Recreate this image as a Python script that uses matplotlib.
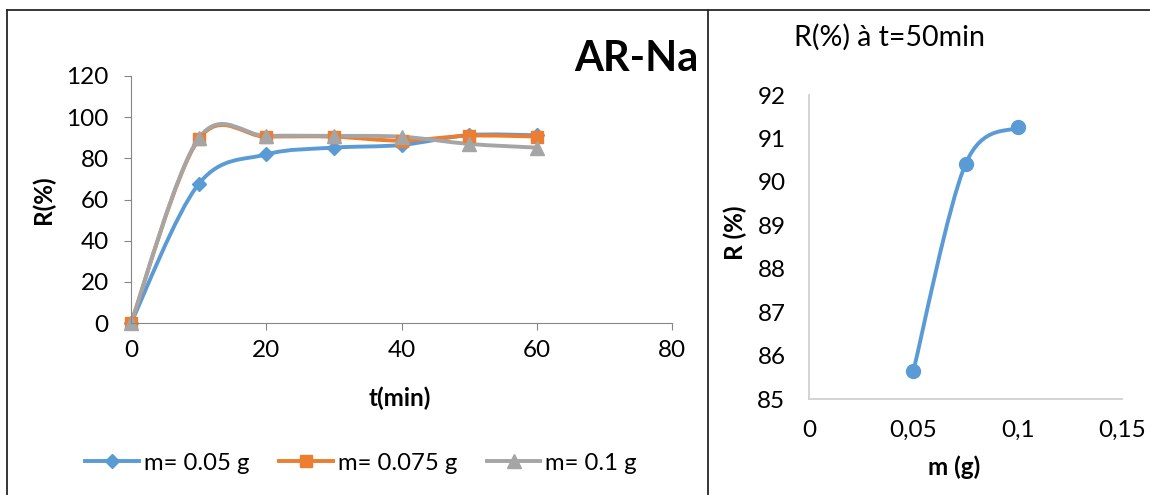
import matplotlib
matplotlib.use('Agg')
import matplotlib.pyplot as plt
from matplotlib.path import Path
from matplotlib.patches import PathPatch
from matplotlib.lines import Line2D

plt.rcParams['font.family'] = ['Lato', 'DejaVu Sans']

# Cinétique : rendement en fonction du temps pour trois masses
t_min = [0, 10, 20, 30, 40, 50, 60]
r_005 = [0, 67.5, 81.9, 85.2, 86.5, 91.3, 91.2]
r_0075 = [0, 89.2, 90.5, 90.5, 88.6, 91.0, 90.6]
r_01 = [0, 89.7, 90.9, 90.9, 90.5, 87.0, 85.2]
labels = ['m= 0.05 g', 'm= 0.075 g', 'm= 0.1 g']

# Rendement à t=50min selon la masse
masse_g = [0.05, 0.075, 0.1]
r_50min = [85.65, 90.41, 91.26]

bleu = '#5B9BD5'
orange = '#ED7D31'
gris = '#A5A5A5'

W, H = 1150, 495


def courbe_lissee(x, y):
    # lissage type Excel (Bezier de Catmull-Rom)
    pts = list(zip(x, y))
    n = len(pts)
    verts = [pts[0]]
    codes = [Path.MOVETO]
    for i in range(n - 1):
        p0 = pts[max(i - 1, 0)]
        p1 = pts[i]
        p2 = pts[i + 1]
        p3 = pts[min(i + 2, n - 1)]
        c1 = (p1[0] + (p2[0] - p0[0]) / 6, p1[1] + (p2[1] - p0[1]) / 6)
        c2 = (p2[0] - (p3[0] - p1[0]) / 6, p2[1] - (p3[1] - p1[1]) / 6)
        verts += [c1, c2, p2]
        codes += [Path.CURVE4] * 3
    return Path(verts, codes)


def trace(ax, x, y, couleur, marqueur, taille):
    ax.add_patch(PathPatch(courbe_lissee(x, y), fill=False, edgecolor=couleur,
                           lw=2.8, capstyle='round', joinstyle='round', clip_on=False))
    ax.plot(x, y, ls='none', marker=marqueur, ms=taille, color=couleur, clip_on=False)


fig = plt.figure(figsize=(W / 100, H / 100), dpi=100)

# ---- graphique de gauche ----
ax1 = fig.add_axes([131 / W, 172 / H, 541 / W, 247 / H])
ax1.set_xlim(0, 80)
ax1.set_ylim(0, 120)
trace(ax1, t_min, r_005, bleu, 'D', 7.5)
trace(ax1, t_min, r_0075, orange, 's', 9)
trace(ax1, t_min, r_01, gris, '^', 10)
ax1.set_xticks(range(0, 81, 20))
ax1.set_yticks(range(0, 121, 20))
for s in ['top', 'right']:
    ax1.spines[s].set_visible(False)
for s in ['left', 'bottom']:
    ax1.spines[s].set_color('#868686')
ax1.tick_params(direction='out', length=5, color='#868686', labelsize=17.5)
ax1.tick_params(axis='y', pad=11)
ax1.tick_params(axis='x', pad=7)

fig.text(43 / W, 1 - 200 / H, 'R(%)', rotation=90, ha='center', va='center',
         fontsize=17.5, fontweight='bold')
fig.text(400 / W, 1 - 398 / H, 't(min)', ha='center', va='center',
         fontsize=17.5, fontweight='bold')
fig.text(636 / W, 1 - 59 / H, 'AR-Na', ha='center', va='center',
         fontsize=30, fontweight='bold')

poignees = [
    Line2D([], [], color=bleu, lw=2.8, marker='D', ms=7.5),
    Line2D([], [], color=orange, lw=2.8, marker='s', ms=9),
    Line2D([], [], color=gris, lw=2.8, marker='^', ms=10),
]
fig.legend(poignees, labels, loc='center', bbox_to_anchor=(361 / W, 1 - 463 / H),
           ncol=3, frameon=False, fontsize=17.2, handlelength=2.25,
           handletextpad=0.2, columnspacing=1.25)

# ---- graphique de droite ----
ax2 = fig.add_axes([809 / W, 95.7 / H, 313 / W, 304.3 / H])
ax2.set_xlim(0, 0.15)
ax2.set_ylim(85, 92)
trace(ax2, masse_g, r_50min, bleu, 'o', 10)
ax2.set_xticks([0, 0.05, 0.1, 0.15])
ax2.set_xticklabels(['0', '0,05', '0,1', '0,15'])
ax2.set_yticks(range(85, 93))
for s in ['top', 'right']:
    ax2.spines[s].set_visible(False)
for s in ['left', 'bottom']:
    ax2.spines[s].set_color('#D0D0D0')
    ax2.spines[s].set_linewidth(1.3)
ax2.tick_params(length=0, labelsize=17.5)
ax2.tick_params(axis='y', pad=17)
ax2.tick_params(axis='x', pad=15)

fig.text(890 / W, 1 - 37 / H, 'R(%) à t=50min', ha='center', va='center', fontsize=20.5)
fig.text(735 / W, 1 - 233 / H, 'R (%)', rotation=90, ha='center', va='center',
         fontsize=17.5, fontweight='bold')
fig.text(954 / W, 1 - 467 / H, 'm (g)', ha='center', va='center',
         fontsize=17.5, fontweight='bold')

# cadres
for xs, ys in [([7, W], [10, 10]), ([7, 7], [10, H]), ([708, 708], [10, H])]:
    fig.add_artist(Line2D([x / W for x in xs], [1 - y / H for y in ys],
                          transform=fig.transFigure, color='#262626', lw=1.3))

fig.savefig('out.png', dpi=100)
